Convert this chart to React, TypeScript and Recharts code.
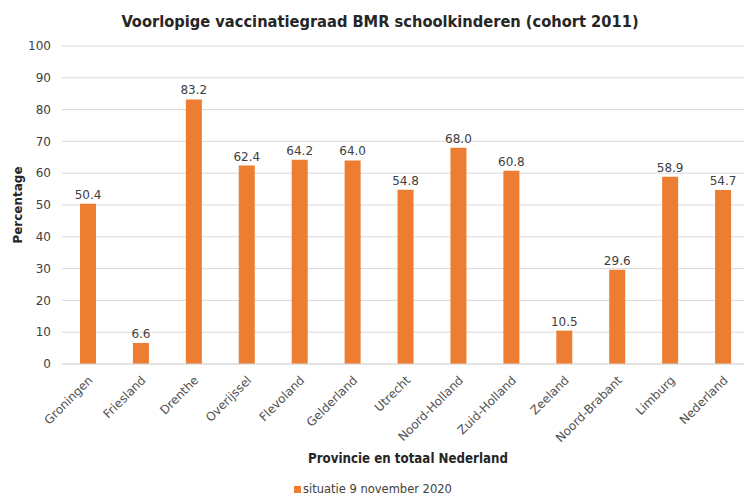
import React from "react";
import { BarChart, Bar, XAxis, YAxis, CartesianGrid, LabelList } from "recharts";

const provinces = [
  "Groningen", "Friesland", "Drenthe", "Overijssel", "Flevoland", "Gelderland", "Utrecht",
  "Noord-Holland", "Zuid-Holland", "Zeeland", "Noord-Brabant", "Limburg", "Nederland",
];
const values = [50.4, 6.6, 83.2, 62.4, 64.2, 64.0, 54.8, 68.0, 60.8, 10.5, 29.6, 58.9, 54.7];
const yTicks = [0, 10, 20, 30, 40, 50, 60, 70, 80, 90, 100];

const data = provinces.map((p, i) => ({ name: p, value: values[i] }));

const ORANGE = "#ED7D31";
const TEXT = "#404040";

const XTick = (props: any) => {
  const { x, y, payload } = props;
  const ax = x + 5;
  const ay = y + 9;
  return (
    <text
      x={ax}
      y={ay}
      transform={`rotate(-45, ${ax}, ${ay})`}
      textAnchor="end"
      fontFamily="DejaVu Sans"
      fontSize={12}
      fill="#505050"
    >
      {payload.value}
    </text>
  );
};

export default function App() {
  return (
    <div style={{ position: "absolute", left: 0, top: 0, width: 744, height: 495, overflow: "hidden", background: "#fff" }}>
      <div
        style={{
          position: "absolute", left: 0, top: 12, width: 760, textAlign: "center",
          fontFamily: "DejaVu Sans Condensed", fontWeight: "bold", fontSize: 16.3, color: "#262626",
        }}
      >
        Voorlopige vaccinatiegraad BMR schoolkinderen (cohort 2011)
      </div>
      <div style={{ position: "absolute", left: 0, top: 0 }}>
        <BarChart
          width={752}
          height={495}
          data={data}
          margin={{ top: 46, right: 2, left: 8, bottom: 131 - 80 }}
        >
          <CartesianGrid vertical={false} stroke="#d9d9d9" />
          <XAxis
            dataKey="name"
            interval={0}
            tickLine={false}
            axisLine={{ stroke: "#d9d9d9" }}
            height={80}
            tick={<XTick />}
          />
          <YAxis
            domain={[0, 100]}
            ticks={yTicks}
            width={54}
            tickLine={false}
            axisLine={false}
            tick={{ fontFamily: "DejaVu Sans", fontSize: 12, fill: TEXT }}
            tickMargin={5}
          />
          <Bar dataKey="value" fill={ORANGE} barSize={16} isAnimationActive={false}>
            <LabelList
              dataKey="value"
              position="top"
              offset={5}
              formatter={(v: any) => Number(v).toFixed(1)}
              style={{ fontFamily: "DejaVu Sans", fontSize: 12, fill: TEXT }}
            />
          </Bar>
        </BarChart>
      </div>
      <div
        style={{
          position: "absolute", left: 8, top: 195, width: 20, height: 20,
          transform: "rotate(-90deg)", transformOrigin: "center",
          display: "flex", alignItems: "center", justifyContent: "center",
        }}
      >
        <span style={{ whiteSpace: "nowrap", fontFamily: "DejaVu Sans", fontWeight: "bold", fontSize: 12, color: "#262626" }}>
          Percentage
        </span>
      </div>
      <div
        style={{
          position: "absolute", left: 306, top: 451, width: 204, textAlign: "center", whiteSpace: "nowrap",
          fontFamily: "DejaVu Sans Condensed", fontWeight: "bold", fontSize: 13.2, color: "#262626",
        }}
      >
        Provincie en totaal Nederland
      </div>
      <div
        style={{
          position: "absolute", left: 294, top: 482, display: "flex", alignItems: "center", whiteSpace: "nowrap",
          fontFamily: "DejaVu Sans", fontSize: 11.5, lineHeight: "14px", color: TEXT,
        }}
      >
        <span style={{ display: "inline-block", width: 7, height: 7, background: ORANGE, marginRight: 2 }} />
        situatie 9 november 2020
      </div>
    </div>
  );
}
